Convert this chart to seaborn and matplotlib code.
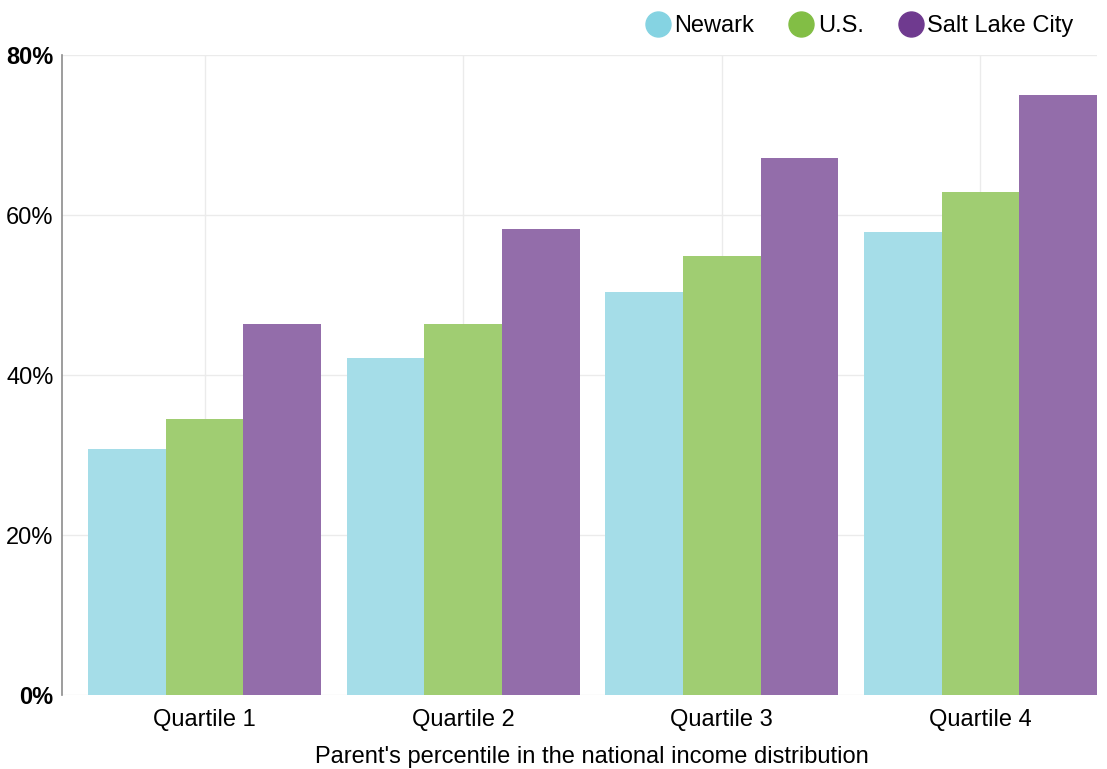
import matplotlib
matplotlib.use("Agg")
import matplotlib.pyplot as plt
import seaborn as sns
import pandas as pd
from matplotlib.lines import Line2D

categories = ["Quartile 1", "Quartile 2", "Quartile 3", "Quartile 4"]
newark = [30.7, 42.1, 50.4, 57.9]
us = [34.5, 46.4, 54.9, 62.9]
slc = [46.4, 58.2, 67.1, 75.0]
series_names = ["Newark", "U.S.", "Salt Lake City"]
y_ticks = [0, 20, 40, 60, 80]
y_tick_labels = ["0%", "20%", "40%", "60%", "80%"]
x_title = "Parent's percentile in the national income distribution"

bar_colors = ["#A5DDE8", "#A0CD72", "#936DAA"]
legend_colors = ["#85D3E2", "#82BE45", "#6F3A8F"]

rows = []
for name, vals in zip(series_names, [newark, us, slc]):
    for c, v in zip(categories, vals):
        rows.append({"Quartile": c, "Series": name, "Value": v})
df = pd.DataFrame(rows)

sns.set_theme(style="white")
plt.rcParams["font.family"] = ["Liberation Sans", "DejaVu Sans"]
plt.rcParams["text.color"] = "black"
plt.rcParams["xtick.color"] = "black"
plt.rcParams["ytick.color"] = "black"
plt.rcParams["axes.labelcolor"] = "black"

W, H = 1107, 769
fig = plt.figure(figsize=(W / 100, H / 100), dpi=100)
ax = fig.add_axes([62 / W, (H - 695) / H, (1097 - 62) / W, (695 - 55) / H])

sns.barplot(data=df, x="Quartile", y="Value", hue="Series", order=categories,
            hue_order=series_names, palette=bar_colors, width=0.9, ax=ax,
            saturation=1, legend=False, linewidth=0, errorbar=None)

ax.set_xlim(-0.5513, 3.4507)
ax.set_ylim(0, 80)
ax.set_yticks(y_ticks)
ax.set_yticklabels(y_tick_labels, fontsize=17)
for lbl in ax.get_yticklabels():
    if lbl.get_text() in ("0%", "80%"):
        lbl.set_fontweight("bold")
ax.tick_params(axis="x", labelsize=17, length=0, pad=10)
ax.tick_params(axis="y", length=0, pad=6)
ax.set_xlabel(x_title, fontsize=17)
ax.xaxis.set_label_coords(0.512, -0.0975, transform=ax.transAxes)
ax.xaxis.label.set_verticalalignment("center")
ax.set_ylabel("")

ax.grid(True, axis="both", color="#EBEBEB", linewidth=1)
ax.set_axisbelow(True)
for s in ["top", "right", "bottom"]:
    ax.spines[s].set_visible(False)
ax.spines["left"].set_color("#8C8C8C")
ax.spines["left"].set_linewidth(1.2)

handles = [Line2D([0], [0], marker="o", linestyle="", markersize=18,
                  markerfacecolor=c, markeredgecolor=c) for c in legend_colors]
fig.legend(handles, series_names, loc="upper right", bbox_to_anchor=(0.989, 1.008),
           ncol=3, frameon=False, fontsize=17, handletextpad=0.1,
           columnspacing=1.4, handlelength=1.2)

fig.savefig("out.png", dpi=100)
